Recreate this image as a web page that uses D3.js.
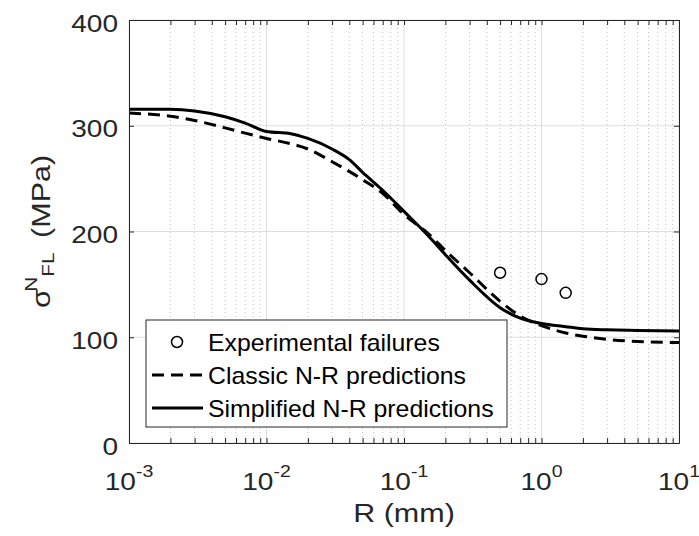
<!DOCTYPE html>
<html>
<head>
<meta charset="utf-8">
<script src="https://cdn.jsdelivr.net/npm/d3@7"></script>
<style>
  body { margin: 0; background: #fff; }
  text { font-family: "Liberation Sans", Arial, sans-serif; fill: #262626; }
</style>
</head>
<body>
<svg width="699" height="536"></svg>
<script>
// axis ticks
const xTicks = [0.001, 0.01, 0.1, 1, 10];
const xTickExps = ["-3", "-2", "-1", "0", "1"];
const yTicks = [0, 100, 200, 300, 400];

// classic N-R predictions (dashed)
const classicR = [0.001, 0.002, 0.003, 0.005, 0.007, 0.01, 0.015, 0.02, 0.03, 0.05, 0.07, 0.1, 0.15, 0.2, 0.3, 0.5, 0.7, 1, 1.5, 2, 3, 5, 10];
const classicS = [312, 309, 305, 298, 293, 288, 283, 278, 266, 249, 236, 216, 198, 182, 161, 134, 120, 111, 104, 101, 98, 96, 95];

// simplified N-R predictions (solid)
const simplR = [0.001, 0.002, 0.003, 0.005, 0.007, 0.01, 0.015, 0.02, 0.03, 0.04, 0.05, 0.07, 0.1, 0.15, 0.2, 0.3, 0.5, 0.7, 1, 1.5, 2, 3, 5, 10];
const simplS = [315.5, 315.5, 314, 308.5, 302.5, 294.5, 292.5, 288, 278, 268, 256, 239, 219, 196, 178, 154, 128, 118, 113, 110, 108, 107, 106.5, 106];

// experimental failures
const expR = [0.5, 1, 1.5];
const expS = [161, 155, 142];

const legendLabels = ["Experimental failures", "Classic N-R predictions", "Simplified N-R predictions"];

const SX = 1.22; // horizontal stretch of the text

const svg = d3.select("svg"),
      margin = {top: 20, right: 20, bottom: 93, left: 129},
      width = +svg.attr("width") - margin.left - margin.right,
      height = +svg.attr("height") - margin.top - margin.bottom,
      g = svg.append("g").attr("transform", "translate(" + margin.left + "," + margin.top + ")");

const x = d3.scaleLog().domain([0.001, 10]).range([0, width]),
      y = d3.scaleLinear().domain([0, 400]).range([height, 0]);

let minors = [];
for (let e = -3; e < 1; e++) {
    for (let k = 2; k <= 9; k++) minors.push(k * Math.pow(10, e));
}

function stext(parent, px, py, anchor, size, sx) {
    return parent.append("g")
        .attr("transform", "translate(" + px + "," + py + ") scale(" + (sx || SX) + ",1)")
        .append("text")
        .attr("text-anchor", anchor)
        .attr("font-size", size);
}

// grid
g.selectAll(".minor-grid")
    .data(minors)
    .enter().append("line")
    .attr("x1", d => x(d)).attr("x2", d => x(d))
    .attr("y1", 0).attr("y2", height)
    .attr("stroke", "#c4c4c4")
    .attr("stroke-width", 1)
    .attr("stroke-dasharray", "1,3");

g.selectAll(".major-xgrid")
    .data(xTicks)
    .enter().append("line")
    .attr("x1", d => x(d)).attr("x2", d => x(d))
    .attr("y1", 0).attr("y2", height)
    .attr("stroke", "#dedede");

g.selectAll(".major-ygrid")
    .data(yTicks)
    .enter().append("line")
    .attr("x1", 0).attr("x2", width)
    .attr("y1", d => y(d)).attr("y2", d => y(d))
    .attr("stroke", "#dedede");

// curves
const line = d3.line()
    .x(d => x(d[0]))
    .y(d => y(d[1]))
    .curve(d3.curveMonotoneX);

g.append("path")
    .datum(classicR.map((r, i) => [r, classicS[i]]))
    .attr("fill", "none")
    .attr("stroke", "#000")
    .attr("stroke-width", 3)
    .attr("stroke-dasharray", "12,7")
    .attr("d", line);

g.append("path")
    .datum(simplR.map((r, i) => [r, simplS[i]]))
    .attr("fill", "none")
    .attr("stroke", "#000")
    .attr("stroke-width", 3)
    .attr("d", line);

g.selectAll(".exp-dot")
    .data(expR)
    .enter().append("circle")
    .attr("cx", d => x(d))
    .attr("cy", (d, i) => y(expS[i]))
    .attr("r", 5.5)
    .attr("fill", "none")
    .attr("stroke", "#000")
    .attr("stroke-width", 1.5);

// axes, ticks pointing inward on all four sides
const axCol = "#262626";
function styleAxis(sel) {
    sel.selectAll("path").attr("stroke", axCol);
    sel.selectAll("line").attr("stroke", axCol);
    sel.selectAll("text").remove();
}
g.append("g").attr("transform", "translate(0," + height + ")")
    .call(d3.axisBottom(x).tickValues(xTicks.concat(minors)).tickSizeInner(-5).tickSizeOuter(0).tickFormat(""))
    .call(styleAxis);
g.append("g")
    .call(d3.axisTop(x).tickValues(xTicks.concat(minors)).tickSizeInner(-5).tickSizeOuter(0).tickFormat(""))
    .call(styleAxis);
g.append("g")
    .call(d3.axisLeft(y).tickValues(yTicks).tickSizeInner(-5).tickSizeOuter(0).tickFormat(""))
    .call(styleAxis);
g.append("g").attr("transform", "translate(" + width + ",0)")
    .call(d3.axisRight(y).tickValues(yTicks).tickSizeInner(-5).tickSizeOuter(0).tickFormat(""))
    .call(styleAxis);

// tick labels
yTicks.forEach(v => {
    stext(g, -11, y(v) + 11.5, "end", 23).text(v);
});
xTicks.forEach((v, i) => {
    const t = stext(g, x(v), height + 47, "middle", 23);
    t.append("tspan").text("10");
    t.append("tspan").attr("font-size", 16).attr("dy", -13).text(xTickExps[i]);
});

// axis labels
stext(g, width / 2, height + 79, "middle", 25).text("R (mm)");

const yl = g.append("g")
    .attr("transform", "translate(-79," + (height / 2) + ") rotate(-90) scale(" + SX + ",1)")
    .append("text")
    .attr("text-anchor", "middle")
    .attr("font-size", 25);
yl.append("tspan").text("\u03c3");
yl.append("tspan").attr("font-size", 17).attr("dx", -2).attr("dy", -13).text("N");
yl.append("tspan").attr("font-size", 17).attr("dy", 17).text("FL");
yl.append("tspan").attr("dx", 5).attr("dy", -4).text(" (MPa)");

// legend
const lg = g.append("g").attr("transform", "translate(" + (146 - margin.left) + "," + (320 - margin.top) + ")");
lg.append("rect")
    .attr("width", 361).attr("height", 107)
    .attr("fill", "#fff")
    .attr("stroke", axCol)
    .attr("stroke-width", 1);

const rowY = [22, 55, 88];
lg.append("circle").attr("cx", 31).attr("cy", rowY[0]).attr("r", 5.5)
    .attr("fill", "none").attr("stroke", "#000").attr("stroke-width", 1.5);
lg.append("line").attr("x1", 6).attr("x2", 57).attr("y1", rowY[1]).attr("y2", rowY[1])
    .attr("stroke", "#000").attr("stroke-width", 3).attr("stroke-dasharray", "12,7");
lg.append("line").attr("x1", 6).attr("x2", 57).attr("y1", rowY[2]).attr("y2", rowY[2])
    .attr("stroke", "#000").attr("stroke-width", 3);

legendLabels.forEach((s, i) => {
    stext(lg, 62, rowY[i] + 8.5, "start", 23, 1.08).style("fill", "#000").text(s);
});
</script>
</body>
</html>
